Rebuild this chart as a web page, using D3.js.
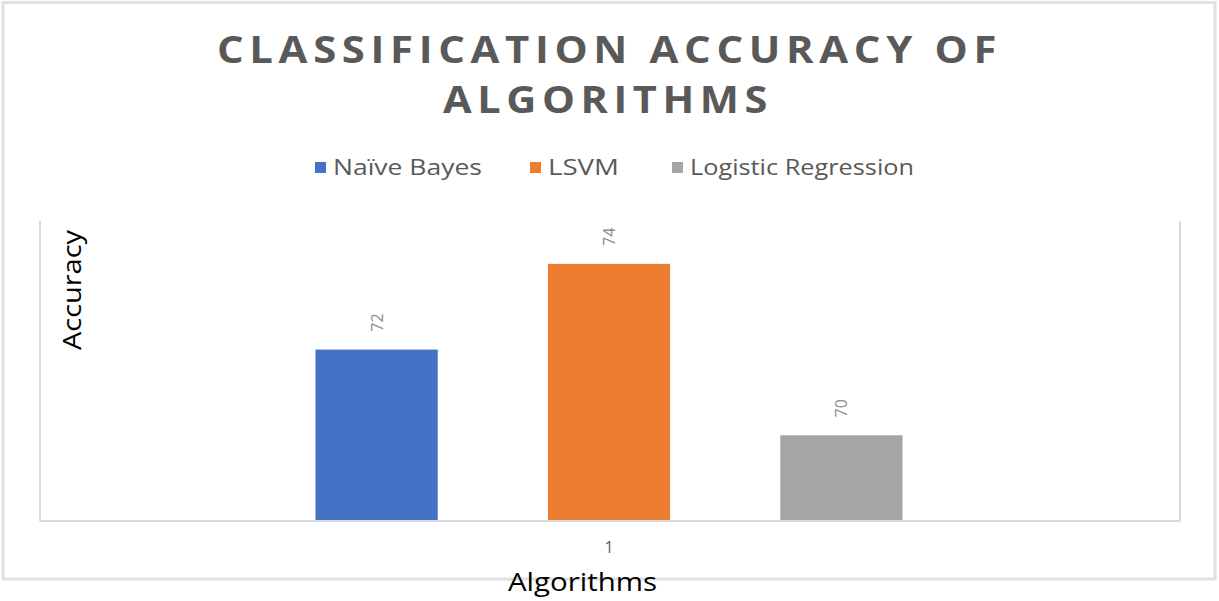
<!DOCTYPE html>
<html>
<head>
<meta charset="utf-8">
<script src="https://cdn.jsdelivr.net/npm/d3@7/dist/d3.min.js"></script>
<style>
html,body{margin:0;padding:0;background:#fff;}
svg{display:block;}
</style>
</head>
<body>
<svg id="chart" width="1219" height="601"></svg>
<script>
const categories = ["1"];
const seriesNames = ["Naïve Bayes", "LSVM", "Logistic Regression"];
const seriesColors = ["#4472C4", "#ED7D31", "#A5A5A5"];
const seriesValues = [72, 74, 70];
const yDomain = [68, 75];

const svg = d3.select("#chart");
const plot = {left: 38, right: 1180, top: 221, bottom: 521};
const FONT = "'Open Sans', sans-serif";

// outer chart border
svg.append("rect").attr("x", 3).attr("y", 2.5).attr("width", 1212).attr("height", 576.5)
  .attr("fill", "#fff").attr("stroke", "#e0e0e0").attr("stroke-width", 3);

// title
const title = svg.append("g").attr("font-family", FONT)
  .attr("font-weight", 700).attr("fill", "#595959").attr("font-size", 37)
  .attr("letter-spacing", 5);
title.append("text").attr("x", 217).attr("y", 63).attr("textLength", 785)
  .attr("lengthAdjust", "spacingAndGlyphs").text("CLASSIFICATION ACCURACY OF");
title.append("text").attr("x", 443).attr("y", 113).attr("textLength", 330)
  .attr("lengthAdjust", "spacingAndGlyphs").text("ALGORITHMS");

// scales
const x0 = d3.scaleBand().domain(categories).range([plot.left, plot.right])
  .paddingInner(0).paddingOuter(0.4727);
const x1 = d3.scaleBand().domain(seriesNames).range([0, x0.bandwidth()])
  .paddingInner(0.474).paddingOuter(0);
const y = d3.scaleLinear().domain(yDomain).range([plot.bottom, plot.top]);

// plot area frame (left, right lines)
const frame = svg.append("g").attr("stroke", "#d9d9d9").attr("stroke-width", 2).attr("fill", "none");
frame.append("line").attr("x1", 40).attr("x2", 40).attr("y1", plot.top).attr("y2", plot.bottom);
frame.append("line").attr("x1", plot.right).attr("x2", plot.right).attr("y1", plot.top).attr("y2", plot.bottom);

// bars
const data = seriesNames.map((s, i) => ({series: s, value: seriesValues[i], color: seriesColors[i], cat: categories[0]}));
const g = svg.append("g");
g.selectAll("rect.bar").data(data).join("rect").attr("class", "bar")
  .attr("x", d => x0(d.cat) + x1(d.series))
  .attr("width", x1.bandwidth())
  .attr("y", d => y(d.value))
  .attr("height", d => y(yDomain[0]) - y(d.value))
  .attr("fill", d => d.color);

// x axis
const xAxis = svg.append("g").attr("transform", `translate(0,${plot.bottom})`)
  .call(d3.axisBottom(x0).tickSize(0).tickPadding(21));
xAxis.select(".domain").attr("stroke", "#d9d9d9").attr("stroke-width", 2).attr("d", `M40,0H${plot.right}`);
xAxis.selectAll("text").attr("font-family", FONT).attr("font-size", 16).attr("fill", "#595959");

// data labels (rotated)
g.selectAll("text.lbl").data(data).join("text").attr("class", "lbl")
  .attr("transform", d => `translate(${x0(d.cat) + x1(d.series) + x1.bandwidth()/2 + 6},${y(d.value) - 27}) rotate(-90)`)
  .attr("text-anchor", "middle")
  .attr("font-family", FONT).attr("font-size", 16).attr("fill", "#8c8c8c")
  .text(d => d.value);

// legend
const legendPos = [315, 530, 672];
const legendLen = [152, 74, 227];
const leg = svg.append("g");
seriesNames.forEach((s, i) => {
  leg.append("rect").attr("x", legendPos[i]).attr("y", 162).attr("width", 11).attr("height", 11).attr("fill", seriesColors[i]);
  leg.append("text").attr("x", legendPos[i] + 18).attr("y", 175).attr("textLength", legendLen[i] - 3)
    .attr("lengthAdjust", "spacingAndGlyphs")
    .attr("font-family", FONT).attr("font-size", 22).attr("fill", "#595959").text(s);
});

// axis titles
svg.append("text").attr("x", 508).attr("y", 591).attr("textLength", 149).attr("lengthAdjust", "spacingAndGlyphs")
  .attr("font-family", FONT).attr("font-size", 25).attr("font-weight", 500).attr("fill", "#000").text("Algorithms");
svg.append("text").attr("transform", "translate(81,350) rotate(-90)").attr("textLength", 120).attr("lengthAdjust", "spacingAndGlyphs")
  .attr("font-family", FONT).attr("font-size", 25).attr("font-weight", 500).attr("fill", "#000").text("Accuracy");
</script>
</body>
</html>
